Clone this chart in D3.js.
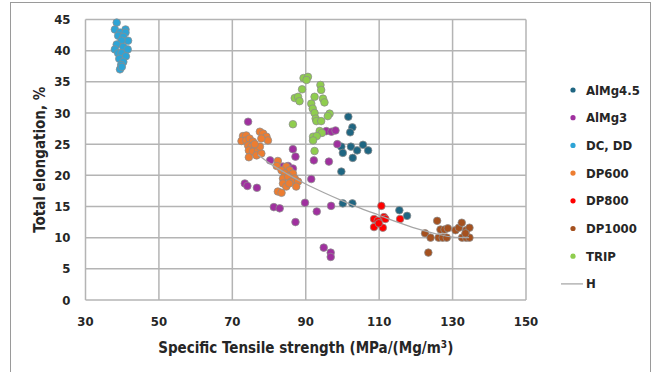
<!DOCTYPE html>
<html>
<head>
<meta charset="utf-8">
<script src="https://cdn.jsdelivr.net/npm/d3@7"></script>
<style>
  body { margin: 0; background: #fff; }
  svg text { font-family: "Liberation Sans Narrow", "DejaVu Sans Condensed", "Liberation Sans", sans-serif; font-weight: bold; fill: #262626; }
</style>
</head>
<body>
<svg width="657" height="372"></svg>
<script>
const svg = d3.select("svg");
const width = +svg.attr("width");
const height = +svg.attr("height");

const margin = { top: 19.5, right: 131, bottom: 72, left: 85.5 };

/* ==========================
   DATA
========================== */

const seriesNames = ["AlMg4.5", "AlMg3", "DC, DD", "DP600", "DP800", "DP1000", "TRIP"];
const seriesColors = ["#1f6682", "#a0309f", "#2ea4d6", "#ed7d31", "#ff0000", "#a5511f", "#8fcd4e"];

const xTicks = [30, 50, 70, 90, 110, 130, 150];
const yTicks = [0, 5, 10, 15, 20, 25, 30, 35, 40, 45];

// [specific tensile strength, total elongation]
const alMg45 = [
    [101.6, 29.4], [102.7, 27.7], [102.1, 26.9], [99.7, 24.6], [100.1, 23.6],
    [102.3, 24.6], [104.0, 24.0], [105.6, 24.9], [107.0, 24.0], [102.8, 22.8],
    [99.7, 20.6], [100.1, 15.5], [102.7, 15.5], [115.5, 14.4], [117.6, 13.5]
];

const alMg3 = [
    [74.3, 28.6], [73.4, 18.7], [74.1, 18.3], [76.7, 18.0], [80.3, 22.4],
    [83.8, 21.4], [85.2, 21.5], [86.5, 21.1], [86.5, 24.2], [87.2, 23.0],
    [91.5, 19.4], [89.8, 15.6], [81.3, 14.9], [82.9, 14.7], [93.0, 14.2],
    [96.9, 15.1], [87.2, 12.5], [94.9, 8.4], [96.8, 7.6], [96.8, 6.9],
    [92.2, 22.4], [96.3, 22.2], [95.6, 27.1], [97.0, 27.0], [98.1, 27.2],
    [98.6, 25.0]
];

const dcDD = [
    [38.5, 44.5], [38.0, 43.4], [40.9, 43.4], [39.4, 42.9], [40.9, 42.9],
    [38.9, 42.4], [40.3, 42.2], [41.6, 41.6], [39.8, 41.6], [38.5, 41.0],
    [40.3, 40.6], [41.5, 40.2], [38.0, 40.2], [38.9, 39.6], [39.8, 39.6],
    [41.0, 39.1], [39.2, 38.7], [40.3, 38.2], [39.7, 37.7], [39.4, 37.0],
    [39.9, 37.4]
];

const dp600 = [
    [72.9, 26.3], [73.8, 26.4], [72.5, 25.5], [73.8, 25.6], [74.7, 25.9],
    [75.6, 25.4], [77.5, 27.0], [78.4, 26.7], [79.3, 26.2], [79.7, 25.6],
    [77.9, 25.9], [74.3, 24.8], [75.2, 24.6], [74.5, 24.0], [75.6, 23.8],
    [77.0, 24.0], [76.6, 23.2], [74.5, 22.9], [77.9, 23.5], [77.5, 24.6],
    [76.1, 25.0], [82.4, 22.3], [82.1, 21.5],
    [84.7, 21.4], [83.4, 20.8], [85.6, 20.8], [84.3, 20.3], [86.5, 20.3],
    [83.8, 19.5], [85.2, 19.8], [87.0, 19.5], [86.1, 19.0], [87.9, 19.0],
    [83.8, 18.7], [84.7, 18.2], [87.4, 18.2], [82.4, 17.4], [83.4, 17.2],
    [85.5, 18.7]
];

const dp800 = [
    [110.6, 15.1], [108.6, 13.0], [109.6, 12.7], [111.3, 13.3], [111.7, 13.0],
    [108.6, 11.7], [111.0, 11.6], [115.7, 13.0], [109.9, 12.3]
];

const dp1000 = [
    [125.8, 12.7], [122.5, 10.7], [124.0, 10.0], [123.4, 7.6], [126.7, 11.3],
    [127.8, 11.3], [128.7, 11.5], [126.2, 10.0], [127.3, 10.0], [128.4, 10.0],
    [130.8, 11.2], [131.7, 11.6], [132.5, 12.4], [133.7, 11.2], [134.6, 11.6],
    [132.6, 10.0], [133.7, 10.0], [134.6, 10.0], [133.5, 10.7]
];

const trip = [
    [89.4, 35.6], [90.6, 35.8], [90.2, 35.3], [94.0, 34.5], [94.2, 33.7],
    [89.0, 33.8], [87.0, 32.4], [87.9, 32.6], [88.3, 31.9], [92.4, 32.6],
    [94.7, 32.3], [95.1, 31.7], [91.5, 31.5], [91.9, 30.7], [92.4, 30.0],
    [96.5, 29.9], [96.0, 29.5], [92.7, 29.1], [92.9, 28.7], [94.2, 28.7],
    [86.5, 28.2], [93.8, 27.1], [94.4, 26.8], [92.0, 26.2], [93.0, 26.3],
    [92.4, 23.9], [92.0, 25.6]
];

const seriesData = [alMg45, alMg3, dcDD, dp600, dp800, dp1000, trip];

// trend line H
const hLine = [
    [77, 23.3], [80, 22.0], [85, 20.2], [90, 18.6], [95, 17.2], [100, 15.9],
    [105, 14.7], [110, 13.6], [115, 12.5], [120, 11.5], [125, 10.7],
    [130, 10.1], [134.5, 10.0]
];

/* ==========================
   SCALES
========================== */

const x = d3.scaleLinear()
    .domain([30, 150])
    .range([margin.left, width - margin.right]);

const y = d3.scaleLinear()
    .domain([0, 45])
    .range([height - margin.bottom, margin.top]);

// outer chart border
svg.append("rect")
    .attr("x", 10.5)
    .attr("y", 2.5)
    .attr("width", 640)
    .attr("height", 380)
    .attr("fill", "none")
    .attr("stroke", "#9a9a9a")
    .attr("stroke-width", 1);

/* ==========================
   GRID + AXES
========================== */

const grid = svg.append("g");

yTicks.forEach(t => {
    grid.append("line")
        .attr("x1", x(30))
        .attr("x2", x(150))
        .attr("y1", y(t))
        .attr("y2", y(t))
        .attr("stroke", "#b4b4b4")
        .attr("stroke-width", 1.5);

    svg.append("text")
        .attr("x", x(30) - 15)
        .attr("y", y(t) + 4.5)
        .attr("text-anchor", "end")
        .attr("font-size", 13)
        .text(t);
});

xTicks.forEach(t => {
    grid.append("line")
        .attr("x1", x(t))
        .attr("x2", x(t))
        .attr("y1", y(0))
        .attr("y2", y(45))
        .attr("stroke", "#b4b4b4")
        .attr("stroke-width", 1.5);

    svg.append("text")
        .attr("x", x(t))
        .attr("y", y(0) + 26)
        .attr("text-anchor", "middle")
        .attr("font-size", 13)
        .text(t);
});

// axis titles
svg.append("text")
    .attr("transform", `translate(45,${(y(0) + y(45)) / 2}) rotate(-90)`)
    .attr("text-anchor", "middle")
    .attr("font-size", 15)
    .text("Total elongation, %");

const xTitle = svg.append("text")
    .attr("x", (x(30) + x(150)) / 2)
    .attr("y", y(0) + 53)
    .attr("text-anchor", "middle")
    .attr("font-size", 15);
xTitle.append("tspan").text("Specific Tensile strength (MPa/(Mg/m");
xTitle.append("tspan").attr("dy", -5).attr("font-size", 10).text("3");
xTitle.append("tspan").attr("dy", 5).text(")");

/* ==========================
   POINTS
========================== */

seriesData.forEach((pts, i) => {
    svg.append("g")
        .selectAll("circle")
        .data(pts)
        .join("circle")
        .attr("cx", d => x(d[0]))
        .attr("cy", d => y(d[1]))
        .attr("r", 3.8)
        .attr("fill", seriesColors[i])
        .attr("stroke", "#8c8c8c")
        .attr("stroke-width", 0.75);
});

const line = d3.line()
    .x(d => x(d[0]))
    .y(d => y(d[1]))
    .curve(d3.curveMonotoneX);

svg.append("path")
    .datum(hLine)
    .attr("d", line)
    .attr("fill", "none")
    .attr("stroke", "#a6a6a6")
    .attr("stroke-width", 1.25);

/* ==========================
   LEGEND
========================== */

const legend = svg.append("g");
const legendY0 = 90;
const legendStep = 27.7;

seriesNames.forEach((name, i) => {
    const ly = legendY0 + i * legendStep;
    legend.append("circle")
        .attr("cx", 573)
        .attr("cy", ly)
        .attr("r", 2.6)
        .attr("fill", seriesColors[i]);
    legend.append("text")
        .attr("x", 586)
        .attr("y", ly + 4.5)
        .attr("font-size", 13)
        .text(name);
});

const hy = legendY0 + seriesNames.length * legendStep;
legend.append("line")
    .attr("x1", 561)
    .attr("x2", 583)
    .attr("y1", hy)
    .attr("y2", hy)
    .attr("stroke", "#a6a6a6")
    .attr("stroke-width", 1.25);
legend.append("text")
    .attr("x", 586)
    .attr("y", hy + 4.5)
    .attr("font-size", 13)
    .text("H");
</script>
</body>
</html>
